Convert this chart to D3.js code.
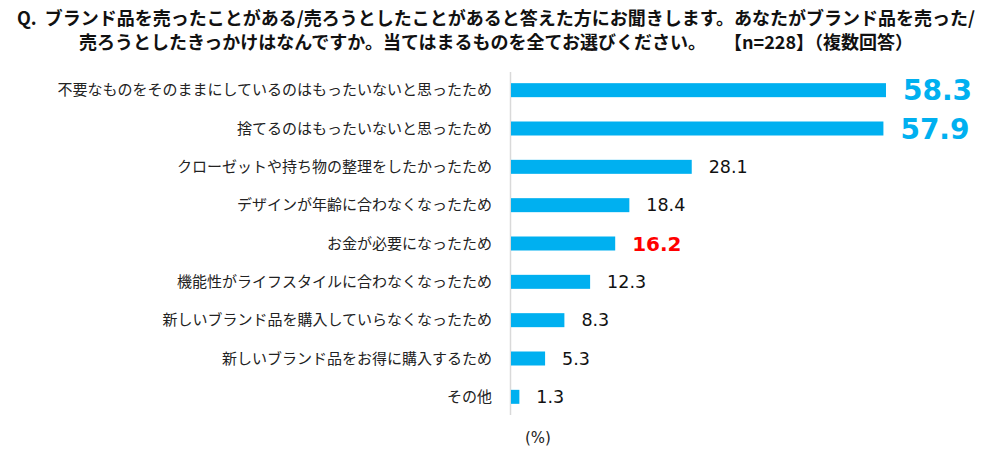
<!DOCTYPE html>
<html>
<head>
<meta charset="utf-8">
<script src="https://cdn.jsdelivr.net/npm/d3@7"></script>
<style>
  body { margin: 0; background: #fff; }
  svg { display: block; }
  .cat { font-family: "Noto Sans CJK JP", sans-serif; font-size: 15px; fill: #222; }
  .title { font-family: "Noto Sans CJK JP", sans-serif; font-size: 18px; font-weight: bold; fill: #111; white-space: pre; }
</style>
</head>
<body>
<svg width="994" height="458"></svg>
<script>
var titleLines = [
  "Q.  ブランド品を売ったことがある/売ろうとしたことがあると答えた方にお聞きします。あなたがブランド品を売った/",
  "売ろうとしたきっかけはなんですか。当てはまるものを全てお選びください。　　【n=228】（複数回答）"
];

var categories = [
  "不要なものをそのままにしているのはもったいないと思ったため",
  "捨てるのはもったいないと思ったため",
  "クローゼットや持ち物の整理をしたかったため",
  "デザインが年齢に合わなくなったため",
  "お金が必要になったため",
  "機能性がライフスタイルに合わなくなったため",
  "新しいブランド品を購入していらなくなったため",
  "新しいブランド品をお得に購入するため",
  "その他"
];

var values = [58.3, 57.9, 28.1, 18.4, 16.2, 12.3, 8.3, 5.3, 1.3];

// label style: big = top two, red = highlighted
var labelStyle = ["big", "big", "", "", "red", "", "", "", ""];

var unitLabel = "(%)";

var svg = d3.select("svg");

var x = d3.scaleLinear().domain([0, 60]).range([511, 511 + 60 * 6.432]);
var y = d3.scaleBand().domain(categories).range([71, 416]);
var barH = 14;

// title
svg.selectAll(".title")
    .data(titleLines)
  .enter().append("text")
    .attr("class", "title")
    .attr("x", 496)
    .attr("y", function(d, i) { return 25 + i * 24; })
    .attr("text-anchor", "middle")
    .text(function(d) { return d; });

// axis line
svg.append("line")
    .attr("x1", x(0) - 0.5).attr("x2", x(0) - 0.5)
    .attr("y1", 72).attr("y2", 415)
    .attr("stroke", "#d9d9d9")
    .attr("stroke-width", 1.5);

// category labels
svg.selectAll(".cat")
    .data(categories)
  .enter().append("text")
    .attr("class", "cat")
    .attr("x", 492)
    .attr("y", function(d) { return y(d) + y.bandwidth() / 2; })
    .attr("dy", "0.35em")
    .attr("text-anchor", "end")
    .text(function(d) { return d; });

// bars
svg.selectAll(".bar")
    .data(values)
  .enter().append("rect")
    .attr("class", "bar")
    .attr("x", x(0))
    .attr("y", function(d, i) { return y(categories[i]) + (y.bandwidth() - barH) / 2; })
    .attr("width", function(d) { return x(d) - x(0); })
    .attr("height", barH)
    .attr("fill", "#00B0F0");

// value labels
svg.selectAll(".val")
    .data(values)
  .enter().append("text")
    .attr("class", "val")
    .attr("x", function(d) { return x(d) + 17; })
    .attr("y", function(d, i) { return y(categories[i]) + y.bandwidth() / 2; })
    .attr("dy", "0.36em")
    .style("font-family", "'DejaVu Sans', sans-serif")
    .style("font-size", function(d, i) {
      return labelStyle[i] === "big" ? "28px" : labelStyle[i] === "red" ? "20px" : "17.5px";
    })
    .style("font-weight", function(d, i) { return labelStyle[i] === "" ? "normal" : "bold"; })
    .attr("fill", function(d, i) {
      return labelStyle[i] === "big" ? "#00B0F0" : labelStyle[i] === "red" ? "#FF0000" : "#111";
    })
    .text(function(d) { return d.toFixed(1); });

// unit
svg.append("text")
    .attr("x", 538)
    .attr("y", 443)
    .attr("text-anchor", "middle")
    .style("font-family", "'DejaVu Sans', sans-serif")
    .style("font-size", "15px")
    .attr("fill", "#222")
    .text(unitLabel);
</script>
</body>
</html>
